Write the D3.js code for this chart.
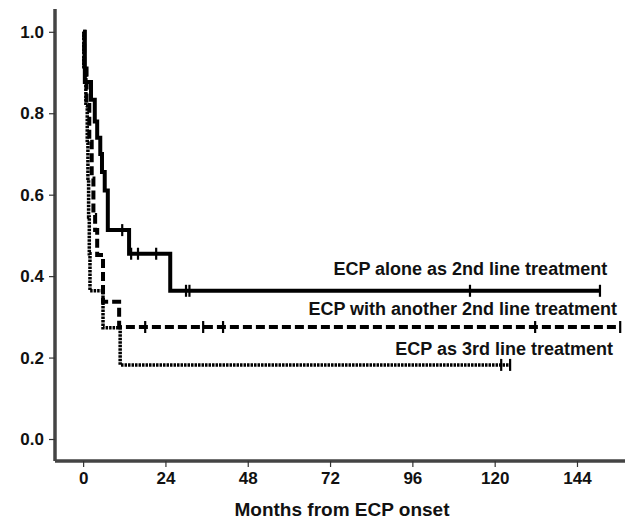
<!DOCTYPE html>
<html>
<head>
<meta charset="utf-8">
<script src="https://cdn.jsdelivr.net/npm/d3@7"></script>
<style>
  body { margin: 0; background: #fff; }
  text { font-family: "Liberation Sans", Arial, sans-serif; font-weight: bold; fill: #111; }
</style>
</head>
<body>
<div id="chart"></div>
<script>
// Kaplan-Meier curves (months, survival probability)
const aloneTimes = [0, 0.5, 2.3, 3.4, 4.1, 5.0, 5.5, 6.3, 7.2, 13.4, 25.4];
const aloneSurv  = [1.0, 0.877, 0.833, 0.78, 0.74, 0.70, 0.656, 0.61, 0.513, 0.455, 0.364];
const aloneCensor = [11.4, 14.0, 16.0, 21.3, 30.0, 31.0, 112.8, 150.7];
const aloneEnd = 150.7;

const anotherTimes = [0, 0.3, 1.0, 1.8, 2.5, 3.0, 3.5, 4.1, 5.8, 10.5];
const anotherSurv  = [1.0, 0.91, 0.82, 0.73, 0.64, 0.55, 0.513, 0.452, 0.337, 0.275];
const anotherCensor = [18.1, 35.0, 40.8, 131.8, 156.6];
const anotherEnd = 156.6;

const thirdTimes = [0, 0.2, 0.8, 1.2, 1.4, 1.6, 1.8, 2.0, 5.8, 10.8];
const thirdSurv  = [1.0, 0.909, 0.818, 0.727, 0.636, 0.545, 0.455, 0.364, 0.273, 0.182];
const thirdCensor = [121.9, 124.5];
const thirdEnd = 124.5;

const seriesNames = ["ECP alone as 2nd line treatment",
                     "ECP with another 2nd line treatment",
                     "ECP as 3rd line treatment"];

const xTicks = [0, 24, 48, 72, 96, 120, 144];
const yTicks = [0.0, 0.2, 0.4, 0.6, 0.8, 1.0];

const width = 631, height = 521;

const svg = d3.select("#chart").append("svg")
  .attr("width", width)
  .attr("height", height);

const x = d3.scaleLinear().domain([-8.2, 158]).range([55, 625]);
const y = d3.scaleLinear().domain([-0.054, 1.056]).range([461, 9]);

// axes
const xAxis = svg.append("g")
  .attr("transform", `translate(0,${y.range()[0]})`)
  .call(d3.axisBottom(x).tickValues(xTicks).tickSize(6).tickPadding(5).tickFormat(d3.format("d")));
const yAxis = svg.append("g")
  .attr("transform", `translate(${x.range()[0]},0)`)
  .call(d3.axisLeft(y).tickValues(yTicks).tickSize(6).tickPadding(5).tickFormat(d3.format(".1f")));

[xAxis, yAxis].forEach(g => {
  g.select(".domain").attr("stroke", "#444").attr("stroke-width", 3.5);
  g.selectAll(".tick line").attr("stroke", "#333").attr("stroke-width", 1.2);
  g.selectAll(".tick text").style("font-size", "17px").style("font-weight", "bold")
    .style("font-family", '"Liberation Sans", Arial, sans-serif').attr("fill", "#111");
});
// no outer tick overhang on the domain lines
xAxis.select(".domain").attr("d", `M${x.range()[0]},0H${x.range()[1]}`);
yAxis.select(".domain").attr("d", `M0,${y.range()[0]}V${y.range()[1]}`);

svg.append("text")
  .attr("x", 342)
  .attr("y", 516)
  .attr("text-anchor", "middle")
  .style("font-size", "19px")
  .text("Months from ECP onset");

// curves
const line = d3.line()
  .x(d => x(d[0]))
  .y(d => y(d[1]))
  .curve(d3.curveStepAfter);

function survAt(times, surv, t) {
  const i = d3.bisectRight(times, t) - 1;
  return surv[Math.max(0, i)];
}

const groups = [
  { times: aloneTimes, surv: aloneSurv, censor: aloneCensor, end: aloneEnd, width: 4, dash: null },
  { times: anotherTimes, surv: anotherSurv, censor: anotherCensor, end: anotherEnd, width: 4, dash: "9,4" },
  { times: thirdTimes, surv: thirdSurv, censor: thirdCensor, end: thirdEnd, width: 3.5, dash: "2.5,1" }
];

groups.forEach(g => {
  const pts = g.times.map((t, i) => [t, g.surv[i]]);
  pts.push([g.end, g.surv[g.surv.length - 1]]);
  svg.append("path")
    .datum(pts)
    .attr("fill", "none")
    .attr("stroke", "#000")
    .attr("stroke-width", g.width)
    .attr("stroke-dasharray", g.dash)
    .attr("d", line);

  svg.append("g").selectAll("line")
    .data(g.censor)
    .enter().append("line")
    .attr("x1", d => x(d)).attr("x2", d => x(d))
    .attr("y1", d => y(survAt(g.times, g.surv, d)) - 6)
    .attr("y2", d => y(survAt(g.times, g.surv, d)) + 6)
    .attr("stroke", "#000")
    .attr("stroke-width", 2.2);
});

// curve labels
const labelPos = [[152.8, -16], [155.7, -12], [154.5, -10]];
groups.forEach((g, i) => {
  svg.append("text")
    .attr("x", x(labelPos[i][0]))
    .attr("y", y(g.surv[g.surv.length - 1]) + labelPos[i][1])
    .attr("text-anchor", "end")
    .style("font-size", "18px")
    .text(seriesNames[i]);
});
</script>
</body>
</html>
